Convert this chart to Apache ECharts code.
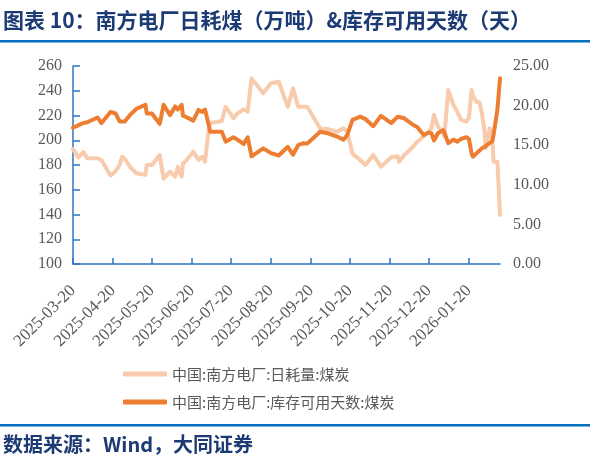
<!DOCTYPE html>
<html>
<head>
<meta charset="utf-8">
<script src="https://cdn.jsdelivr.net/npm/echarts@6/dist/echarts.min.js"></script>
<style>
html,body{margin:0;padding:0;background:#fff;}
#chart{width:590px;height:468px;}
</style>
</head>
<body>
<div id="chart"></div>
<script>
// ---- data ----
var dates = ['2025-03-20','2025-03-24','2025-03-28','2025-03-31','2025-04-08','2025-04-11','2025-04-18','2025-04-22','2025-04-25','2025-04-27',
'2025-04-29','2025-05-03','2025-05-08','2025-05-15','2025-05-16','2025-05-20','2025-05-26','2025-05-27','2025-05-29','2025-06-03',
'2025-06-07','2025-06-09','2025-06-12','2025-06-13','2025-06-15','2025-06-21','2025-06-22','2025-06-25','2025-06-28','2025-06-30',
'2025-07-03','2025-07-04','2025-07-13','2025-07-16','2025-07-22','2025-07-25','2025-07-30','2025-07-31','2025-08-02','2025-08-05',
'2025-08-14','2025-08-20','2025-08-26','2025-09-02','2025-09-06','2025-09-10','2025-09-14','2025-09-17','2025-09-27','2025-10-03',
'2025-10-10','2025-10-15','2025-10-18','2025-10-22','2025-10-28','2025-11-01','2025-11-07','2025-11-13','2025-11-21','2025-11-26',
'2025-11-27','2025-12-01','2025-12-08','2025-12-11','2025-12-16','2025-12-20','2025-12-22','2025-12-24','2025-12-27','2025-12-31',
'2026-01-01','2026-01-04','2026-01-08','2026-01-11','2026-01-14','2026-01-18','2026-01-20','2026-01-22','2026-01-23','2026-01-26',
'2026-01-28','2026-01-30','2026-02-01','2026-02-02','2026-02-05','2026-02-07','2026-02-08','2026-02-11','2026-02-13'];

// 中国:南方电厂:日耗量:煤炭 (万吨, left axis)
var dailyConsumption = [193,186,190.5,185.5,185.5,184,171.5,175,180,186.7,
185,178.6,173.3,172,180,180,188,187,169,174.6,
170.5,178.6,170.5,181.4,183,190.8,189,184,186.7,182.7,
210,214,215.5,227,217.7,221.7,225,225.8,223,250,
238,246,247.3,227,242,227,227,227,209.6,209,
207,209.6,207,189,184,180,188,178.6,186.2,187,
182.7,188,195,198.8,203,207,209.6,220.4,211,206,
203,240.6,228.5,223,216.4,215,218,240.6,236,231,
231,221.8,208,193.5,209.6,204,182.7,182.7,139.6];

// 中国:南方电厂:库存可用天数:煤炭 (天, right axis)
var stockDays = [17.2,17.5,17.8,17.9,18.5,17.8,19.2,19.0,18.0,18.0,
18.0,18.8,19.6,20.1,19.0,19.0,17.7,17.55,20.1,18.8,
19.9,19.5,20.1,18.7,18.6,18.1,18.0,19.45,19.2,19.5,
17.5,16.7,16.7,15.45,16.0,15.7,15.15,15.5,16.0,13.6,
14.6,14.0,13.7,14.8,13.8,15.0,15.25,15.2,16.7,16.5,
16.1,15.7,16.3,18.2,18.6,18.3,17.4,18.7,17.8,18.6,
18.5,18.4,17.55,17.3,16.3,16.6,16.5,15.6,16.5,16.9,
16.6,15.25,15.7,15.45,15.8,16.0,15.8,14.0,13.55,14.0,
14.3,14.6,14.8,15.0,15.25,15.5,16.3,19.5,23.45];

var tickLabels = ['2025-03-20','2025-04-20','2025-05-20','2025-06-20','2025-07-20','2025-08-20',
'2025-09-20','2025-10-20','2025-11-20','2025-12-20','2026-01-20'];

var seriesNames = ['中国:南方电厂:日耗量:煤炭','中国:南方电厂:库存可用天数:煤炭'];
var titleText = '图表 10：南方电厂日耗煤（万吨）&库存可用天数（天）';
var sourceText = '数据来源：Wind，大同证券';

// ---- helpers ----
function toTs(s){var p=s.split('-').map(Number);return new Date(p[0],p[1]-1,p[2]).getTime();}
function pad(n){return (n<10?'0':'')+n;}
function fmt(v){var d=new Date(v);return d.getFullYear()+'-'+pad(d.getMonth()+1)+'-'+pad(d.getDate());}

var tickTs = tickLabels.map(toTs);
var lightData = dates.map(function(d,i){return [toTs(d), dailyConsumption[i]];});
var darkData = dates.map(function(d,i){return [toTs(d), stockDays[i]];});

var axisBlue = '#2e75c2';
var labelGrey = '#595959';
var navy = '#1c3a73';

var chart = echarts.init(document.getElementById('chart'), null, {renderer:'canvas'});
chart.setOption({
  animation:false,
  backgroundColor:'#ffffff',
  grid:{left:73,right:90,top:66,bottom:204},
  graphic:[
    {type:'text',left:3,top:10,style:{text:titleText,font:'bold 21px "Noto Sans CJK SC"',fill:navy}},
    {type:'rect',shape:{x:0,y:40,width:590,height:2.5},style:{fill:'#0070c0'}},
    {type:'rect',shape:{x:0,y:424,width:590,height:2.5},style:{fill:'#0070c0'}},
    {type:'text',left:3,top:434,style:{text:sourceText,font:'bold 20px "Noto Sans CJK SC"',fill:navy}}
  ],
  legend:{
    orient:'vertical',left:118,top:361,
    itemWidth:44,itemHeight:5,itemGap:12,icon:'roundRect',
    textStyle:{color:labelGrey,fontSize:15,lineHeight:16,fontFamily:'"Noto Sans CJK SC"'},
    data:seriesNames
  },
  xAxis:{
    type:'value',
    min:toTs(dates[0]),max:toTs(dates[dates.length-1]),
    axisLine:{show:true,lineStyle:{color:axisBlue,width:1.5}},
    axisTick:{show:true,inside:true,length:6,customValues:tickTs,lineStyle:{color:axisBlue,width:1.5}},
    axisLabel:{customValues:tickTs,rotate:45,margin:24,color:labelGrey,fontSize:17,
      fontFamily:'"Liberation Serif"',formatter:function(v){return fmt(v);}},
    splitLine:{show:false}
  },
  yAxis:[
    {type:'value',min:100,max:260,interval:20,
      axisLine:{show:true,lineStyle:{color:axisBlue,width:1.5}},
      axisTick:{show:true,inside:true,length:7,lineStyle:{color:axisBlue,width:1.5}},
      axisLabel:{color:labelGrey,fontSize:16,fontFamily:'"Liberation Serif"',margin:11},
      splitLine:{show:false}},
    {type:'value',min:0,max:25,interval:5,position:'right',
      axisLine:{show:false},axisTick:{show:false},
      axisLabel:{color:labelGrey,fontSize:16,fontFamily:'"Liberation Serif"',margin:13,
        formatter:function(v){return v.toFixed(2);}},
      splitLine:{show:false}}
  ],
  series:[
    {name:seriesNames[0],type:'line',yAxisIndex:0,data:lightData,symbol:'none',
      lineStyle:{color:'#f8cbad',width:4,cap:'round',join:'round'},itemStyle:{color:'#f8cbad'}},
    {name:seriesNames[1],type:'line',yAxisIndex:1,data:darkData,symbol:'none',
      lineStyle:{color:'#ed7d31',width:4,cap:'round',join:'round'},itemStyle:{color:'#ed7d31'}}
  ]
});
</script>
</body>
</html>
